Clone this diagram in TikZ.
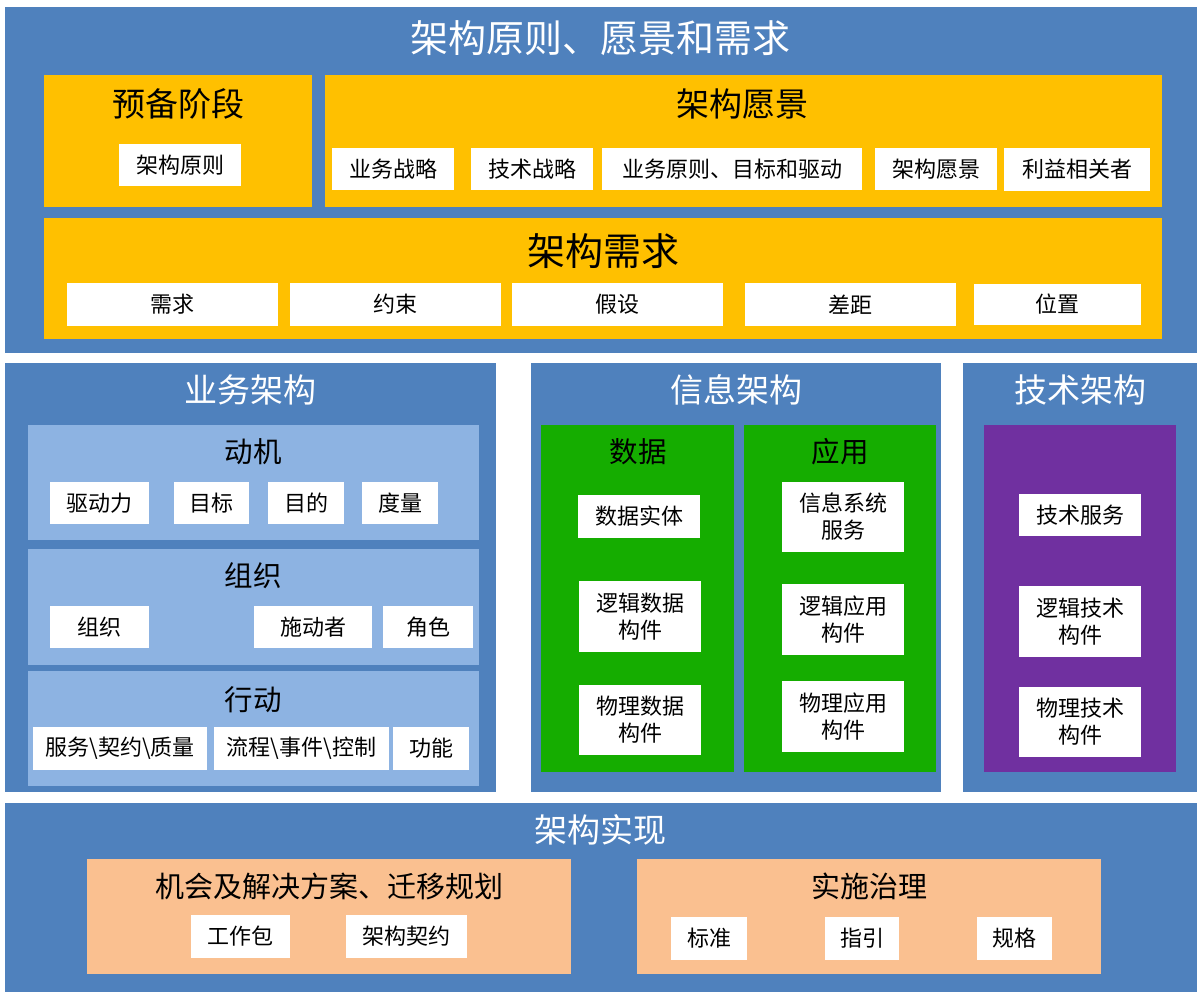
\documentclass[tikz,border=0pt]{standalone}
\usepackage{fontspec}
\setmainfont{Noto Sans CJK SC}
\definecolor{cblue}{HTML}{4F81BD}
\definecolor{cyellow}{HTML}{FFC000}
\definecolor{clight}{HTML}{8DB3E2}
\definecolor{cgreen}{HTML}{15AD00}
\definecolor{cpurple}{HTML}{7030A0}
\definecolor{cpeach}{HTML}{FAC090}
\tikzset{
  region/.style={inner sep=0pt, outer sep=0pt, draw=none, rectangle},
  bluebox/.style={region, fill=cblue},
  yellowbox/.style={region, fill=cyellow},
  lightbox/.style={region, fill=clight},
  greenbox/.style={region, fill=cgreen},
  purplebox/.style={region, fill=cpurple},
  peachbox/.style={region, fill=cpeach},
  wbox/.style={region, fill=white, text=black, align=center, font=\fontsize{22}{27}\selectfont},
  wtitle/.style={inner sep=0pt, text=white, font=\fontsize{33}{36}\selectfont},
  bigwtitle/.style={inner sep=0pt, text=white, font=\fontsize{38}{42}\selectfont},
  ktitle/.style={inner sep=0pt, text=black, font=\fontsize{33}{36}\selectfont},
  bigktitle/.style={inner sep=0pt, text=black, font=\fontsize{38}{42}\selectfont},
  mtitle/.style={inner sep=0pt, text=black, font=\fontsize{28.5}{32}\selectfont},
  ptitle/.style={inner sep=0pt, text=black, font=\fontsize{29}{32}\selectfont},
}
% \rb{name}{style}{x1}{y1}{x2}{y2}{text}
\newcommand\rb[7]{\node[#2, minimum width={(#5-#3)*1pt}, minimum height={(#6-#4)*1pt}] (#1) at ({(#3+#5)/2},{(#4+#6)/2}) {#7};}
\begin{document}
\begin{tikzpicture}[x=1pt,y=-1pt]
\useasboundingbox[fill=white] (0,0) rectangle (1202,996);
% ===== top section
\rb{top}{bluebox}{5}{7}{1197}{353}{}
\node[bigwtitle] (toptitle) at (600,38) {架构原则、愿景和需求};
\rb{prep}{yellowbox}{44}{75}{312}{207}{}
\node[ktitle] (preptitle) at (178,104) {预备阶段};
\rb{prep1}{wbox}{119}{144}{241}{186}{架构原则}
\rb{vis}{yellowbox}{325}{75}{1162}{207}{}
\node[ktitle] (vistitle) at (742,104) {架构愿景};
\rb{vis1}{wbox}{332}{148}{454}{190}{业务战略}
\rb{vis2}{wbox}{471}{148}{593}{190}{技术战略}
\rb{vis3}{wbox}{602}{148}{862}{190}{业务原则、目标和驱动}
\rb{vis4}{wbox}{875}{148}{997}{190}{架构愿景}
\rb{vis5}{wbox}{1004}{148}{1150}{191}{利益相关者}
\rb{req}{yellowbox}{44}{218}{1162}{339}{}
\node[bigktitle] (reqtitle) at (603,251) {架构需求};
\rb{req1}{wbox}{67}{283}{278}{326}{需求}
\rb{req2}{wbox}{290}{283}{501}{326}{约束}
\rb{req3}{wbox}{512}{283}{723}{326}{假设}
\rb{req4}{wbox}{745}{283}{956}{326}{差距}
\rb{req5}{wbox}{974}{284}{1141}{325}{位置}
% ===== business architecture
\rb{bus}{bluebox}{5}{363}{496}{792}{}
\node[wtitle] (bustitle) at (250,390) {业务架构};
\rb{mot}{lightbox}{28}{425}{479}{540}{}
\node[mtitle] (mottitle) at (253,452) {动机};
\rb{mot1}{wbox}{50}{482}{149}{524}{驱动力}
\rb{mot2}{wbox}{174}{482}{249}{524}{目标}
\rb{mot3}{wbox}{268}{482}{344}{524}{目的}
\rb{mot4}{wbox}{362}{482}{438}{524}{度量}
\rb{org}{lightbox}{28}{549}{479}{665}{}
\node[mtitle] (orgtitle) at (253,576) {组织};
\rb{org1}{wbox}{50}{606}{149}{648}{组织}
\rb{org2}{wbox}{254}{606}{372}{648}{施动者}
\rb{org3}{wbox}{383}{606}{473}{648}{角色}
\rb{act}{lightbox}{28}{671}{479}{786}{}
\node[mtitle] (acttitle) at (253,700) {行动};
\rb{act1}{wbox}{33}{727}{207}{770}{服务\textbackslash 契约\textbackslash 质量}
\rb{act2}{wbox}{214}{727}{389}{770}{流程\textbackslash 事件\textbackslash 控制}
\rb{act3}{wbox}{393}{727}{469}{770}{功能}
% ===== information architecture
\rb{info}{bluebox}{531}{363}{941}{792}{}
\node[wtitle] (infotitle) at (736,390) {信息架构};
\rb{data}{greenbox}{541}{425}{734}{772}{}
\node[mtitle] (datatitle) at (638,452) {数据};
\rb{data1}{wbox}{578}{495}{700}{538}{数据实体}
\rb{data2}{wbox}{579}{581}{701}{652}{逻辑数据\\构件}
\rb{data3}{wbox}{579}{685}{701}{755}{物理数据\\构件}
\rb{app}{greenbox}{744}{425}{936}{772}{}
\node[mtitle] (apptitle) at (840,452) {应用};
\rb{app1}{wbox}{782}{482}{904}{552}{信息系统\\服务}
\rb{app2}{wbox}{782}{584}{904}{655}{逻辑应用\\构件}
\rb{app3}{wbox}{782}{681}{904}{752}{物理应用\\构件}
% ===== technology architecture
\rb{tech}{bluebox}{963}{363}{1197}{792}{}
\node[wtitle] (techtitle) at (1080,390) {技术架构};
\rb{techin}{purplebox}{984}{425}{1176}{772}{}
\rb{tech1}{wbox}{1019}{494}{1141}{536}{技术服务}
\rb{tech2}{wbox}{1019}{586}{1141}{657}{逻辑技术\\构件}
\rb{tech3}{wbox}{1019}{687}{1141}{757}{物理技术\\构件}
% ===== implementation
\rb{impl}{bluebox}{5}{803}{1197}{992}{}
\node[wtitle] (impltitle) at (600,830) {架构实现};
\rb{opp}{peachbox}{87}{859}{571}{974}{}
\node[ptitle] (opptitle) at (329,886) {机会及解决方案、迁移规划};
\rb{opp1}{wbox}{191}{915}{290}{958}{工作包}
\rb{opp2}{wbox}{346}{915}{467}{958}{架构契约}
\rb{gov}{peachbox}{637}{859}{1101}{974}{}
\node[ptitle] (govtitle) at (869,886) {实施治理};
\rb{gov1}{wbox}{671}{917}{747}{960}{标准}
\rb{gov2}{wbox}{825}{917}{899}{960}{指引}
\rb{gov3}{wbox}{977}{917}{1052}{960}{规格}
\end{tikzpicture}
\end{document}
